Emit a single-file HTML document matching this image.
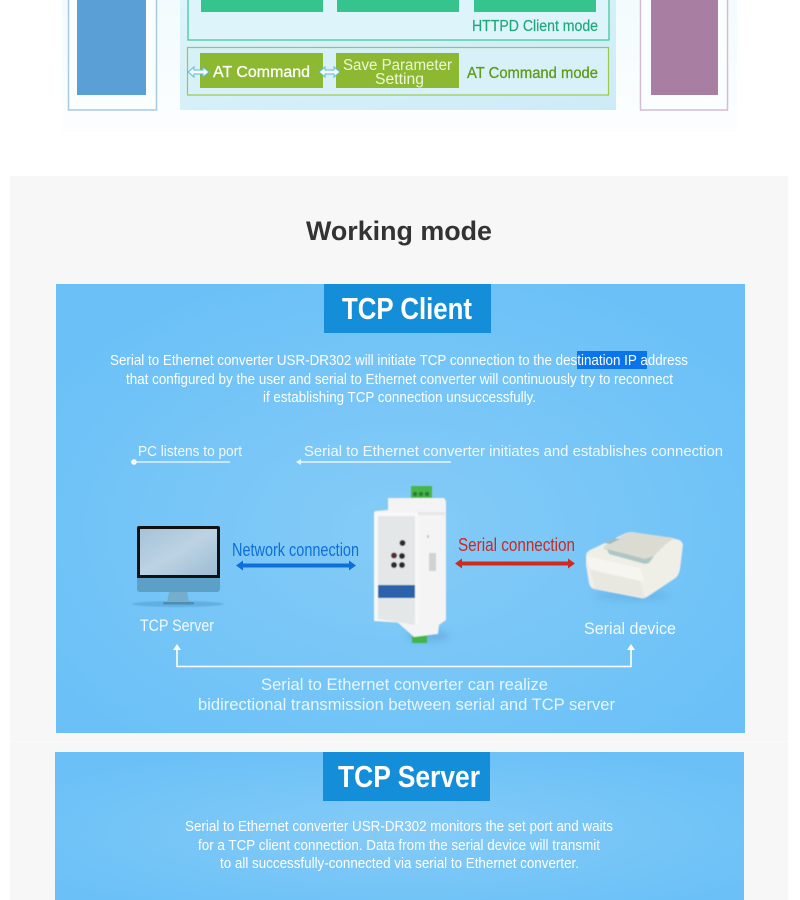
<!DOCTYPE html>
<html><head><meta charset="utf-8"><style>
html,body{margin:0;padding:0;background:#fff}
svg{display:block}
text{font-family:"Liberation Sans",sans-serif}
</style></head><body>
<svg width="800" height="900" viewBox="0 0 800 900" xmlns="http://www.w3.org/2000/svg">
<defs>
<radialGradient id="bg" cx="50%" cy="55%" r="60%"><stop offset="0" stop-color="#85cbf7"/><stop offset="1" stop-color="#6bc1f7"/></radialGradient>
<linearGradient id="center" x1="0" y1="0" x2="1" y2="1"><stop offset="0" stop-color="#dcf4fb"/><stop offset="1" stop-color="#cdebf7"/></linearGradient>
<linearGradient id="screen" x1="0" y1="0" x2="1" y2="1"><stop offset="0" stop-color="#a5c3d9"/><stop offset=".5" stop-color="#bcd3e3"/><stop offset="1" stop-color="#9dbbd4"/></linearGradient>
<linearGradient id="fade" x1="0" y1="0" x2="0" y2="1"><stop offset="0" stop-color="#f2fbfd"/><stop offset="1" stop-color="#fcfefe"/></linearGradient>
<filter id="soft" x="-10%" y="-10%" width="120%" height="120%"><feGaussianBlur stdDeviation=".5"/></filter>
<filter id="shadow" x="-30%" y="-100%" width="160%" height="300%"><feGaussianBlur stdDeviation="4"/></filter>
</defs>

<rect width="800" height="900" fill="#fff"/>
<!-- top diagram -->
<rect x="62" y="0" width="675" height="132" fill="url(#fade)"/>
<rect x="68.500" y="-5" width="88" height="115" fill="#fbfefe" stroke="#a9c9e0" stroke-width="1.500"/>
<rect x="77" y="0" width="69" height="95" fill="#5a9fd5"/>
<rect x="640.500" y="-5" width="87" height="115" fill="#fbfefe" stroke="#d3bdd0" stroke-width="1.500"/>
<rect x="651" y="0" width="67" height="95" fill="#a97ea3"/>
<rect x="180" y="0" width="436" height="110" fill="url(#center)"/>
<rect x="188" y="-5" width="421" height="45" fill="#dcf4fa" stroke="#3ac690" stroke-width="1.200"/>
<rect x="201" y="0" width="122" height="12" fill="#36c48e"/>
<rect x="337" y="0" width="122" height="12" fill="#36c48e"/>
<rect x="474" y="0" width="122" height="12" fill="#36c48e"/>
<text x="472" y="31" font-size="16" fill="#1fa87a" stroke="#1fa87a" stroke-width=".2" textLength="126" lengthAdjust="spacingAndGlyphs">HTTPD Client mode</text>
<rect x="187.500" y="47.500" width="421" height="47.500" fill="#d8f1f8" stroke="#9bc84b" stroke-width="1.200"/>
<rect x="200" y="53" width="123" height="35" fill="#8cb931"/>
<rect x="336" y="53" width="123" height="35" fill="#8cb931"/>
<text x="213" y="77" font-size="16" fill="#fff" stroke="#fff" stroke-width=".3" textLength="97" lengthAdjust="spacingAndGlyphs">AT Command</text>
<text x="343" y="70" font-size="15.500" fill="#eef7d8" textLength="109" lengthAdjust="spacingAndGlyphs">Save Parameter</text>
<text x="375" y="84" font-size="15.500" fill="#eef7d8" textLength="49" lengthAdjust="spacingAndGlyphs">Setting</text>
<text x="467" y="78" font-size="16" fill="#5f9a17" stroke="#5f9a17" stroke-width=".3" textLength="131" lengthAdjust="spacingAndGlyphs">AT Command mode</text>
<g fill="#f5fcfd" stroke="#5cbcd6" stroke-width="1">
<path d="M188 72 l6 -5 v3 h9 v-3 l6 5 l-6 5 v-3 h-9 v3z"/>
<path d="M319 72 l6 -5 v3 h9 v-3 l6 5 l-6 5 v-3 h-9 v3z"/>
</g>

<!-- gray section -->
<rect x="10" y="176" width="778" height="724" fill="#f7f7f7"/>
<text x="399" y="240" text-anchor="middle" font-size="27" font-weight="bold" fill="#333" textLength="186" lengthAdjust="spacingAndGlyphs">Working mode</text>

<!-- TCP Client panel -->
<rect x="56" y="284" width="689" height="449" fill="url(#bg)"/>
<rect x="324" y="284" width="167" height="49" fill="#148ed9"/>
<text x="342" y="319" font-size="31" font-weight="bold" fill="#fff" textLength="130" lengthAdjust="spacingAndGlyphs">TCP Client</text>
<rect x="577" y="351" width="70" height="18" fill="#0a74ea"/>
<g font-size="15" fill="#fff">
<text x="110" y="365" textLength="578" lengthAdjust="spacingAndGlyphs">Serial to Ethernet converter USR-DR302 will initiate TCP connection to the destination IP address</text>
<text x="126" y="384" textLength="547" lengthAdjust="spacingAndGlyphs">that configured by the user and serial to Ethernet converter will continuously try to reconnect</text>
<text x="263" y="402" textLength="273" lengthAdjust="spacingAndGlyphs">if establishing TCP connection unsuccessfully.</text>
</g>
<g font-size="15" fill="#f1f9ff">
<text x="138" y="456" textLength="104" lengthAdjust="spacingAndGlyphs">PC listens to port</text>
<text x="304" y="456" textLength="419" lengthAdjust="spacingAndGlyphs">Serial to Ethernet converter initiates and establishes connection</text>
</g>
<circle cx="134" cy="462" r="2.800" fill="#fff"/>
<rect x="134" y="461.300" width="96" height="1.400" fill="#e6f5ff"/>
<path d="M296 462 l5 -3 v2.300 h150 v1.400 h-150 v2.300z" fill="#e6f5ff"/>

<!-- monitor -->
<ellipse cx="178" cy="604" rx="46" ry="3" fill="#4f9ad0" opacity=".5" filter="url(#soft)"/>
<rect x="137" y="526" width="83" height="54" rx="2" fill="#111"/>
<rect x="140" y="529" width="77" height="46" fill="url(#screen)"/>
<path d="M137 578 h83 v11 a3 3 0 0 1 -3 3 h-77 a3 3 0 0 1 -3 -3z" fill="#5c9fc7"/>
<path d="M169 592 h18 l2 10 h-22z" fill="#75aecd"/>
<rect x="163" y="602" width="31" height="2.500" rx="1" fill="#4f8db2"/>
<text x="140" y="631" font-size="16.500" fill="#f4faff" textLength="74" lengthAdjust="spacingAndGlyphs">TCP Server</text>

<!-- network -->
<text x="232" y="556" font-size="18" fill="#0f6fd8" textLength="127" lengthAdjust="spacingAndGlyphs">Network connection</text>
<path d="M236 565.500 l7 -5 v3 h106 v-3 l7 5 l-7 5 v-3 h-106 v3z" fill="#0f6fd8"/>

<!-- device -->
<ellipse cx="428" cy="636" rx="22" ry="5" fill="#4f93c8" opacity=".45" filter="url(#shadow)"/>
<g filter="url(#soft)">
<rect x="411" y="486" width="21" height="13" fill="#47b64a"/>
<g fill="#2d7b35"><circle cx="415" cy="494" r="2.200"/><circle cx="421" cy="494" r="2.200"/><circle cx="427" cy="494" r="2.200"/></g>
<rect x="412" y="634" width="15" height="9" fill="#3fb648"/>
<path d="M388 498 h56 l2 3 v119 l-7 5 l-1 9 l-24 3 l-17 -15 l-22 -4 v-107 l13 -1z" fill="#f3f4f3"/>
<path d="M374 512 h45 v112 l-45 -3z" fill="#f7f8f7"/>
<path d="M378 516 h37 v109 l-37 -6z" fill="#e4e7e7"/>
<path d="M418 512 h27 v3 h-27z" fill="#e6e8e7"/>
<rect x="427" y="535" width="2" height="3" fill="#c5c8c8"/>
<rect x="429" y="553" width="7" height="18" fill="#cfd3d3"/>
<g fill="#2b2b2b"><circle cx="402.500" cy="543" r="3"/><circle cx="402" cy="556" r="3"/><circle cx="402" cy="565" r="3"/><circle cx="394" cy="565" r="3"/></g>
<circle cx="394" cy="555.500" r="3" fill="#5a2a33"/>
<rect x="378" y="585" width="37" height="13" fill="#2b62ac"/>
</g>

<!-- serial -->
<text x="458" y="551" font-size="18" fill="#c82a25" textLength="117" lengthAdjust="spacingAndGlyphs">Serial connection</text>
<path d="M455 563.500 l7 -5 v3 h106 v-3 l7 5 l-7 5 v-3 h-106 v3z" fill="#d02a1c"/>

<!-- printer -->
<ellipse cx="632" cy="596" rx="38" ry="4" fill="#4f93c8" opacity=".35" filter="url(#shadow)"/>
<g filter="url(#soft)">
<path d="M586 556 q0 -4 4 -6 l36 -17 q3 -1 6 -1 l44 7 q6 1 7 6 l-3 24 q-1 7 -6 10 l-27 18 q-3 2 -7 1 l-46 -9 q-4 -1 -5 -6 l-3 -18 z" fill="#efeee7"/>
<path d="M604 546 l23 -13 q3 -1 5 -1 l42 6 l-8 6 l-18 18 l-44 -13z" fill="#dcdbd1"/>
<path d="M607 549 l38 10 l9 -3 l-5 7 l-4 1 l-36 -10z" fill="#adc7c6"/>
<path d="M604 543 l10 -5 l6 1 l-10 5z" fill="#9dbbc4"/>
<path d="M590 570 l50 11 l5 16 l-2 1 l-48 -9 q-2 -10 -5 -19z" fill="#e9e8e0"/>
<path d="M586 556 l54 12 q3 8 5 15 l-4 -2 l-51 -12z" fill="#f6f5ef"/>
</g>
<text x="584" y="634" font-size="16.500" fill="#f4faff" textLength="92" lengthAdjust="spacingAndGlyphs">Serial device</text>

<!-- bottom connector -->
<path d="M177 648 v18.500 h454 v-18.500" fill="none" stroke="#fff" stroke-width="1.600"/>
<path d="M173 650 l4 -6 l4 6z M627 650 l4 -6 l4 6z" fill="#fff"/>
<g font-size="16.500" fill="#e9f6ff">
<text x="261" y="690" textLength="287" lengthAdjust="spacingAndGlyphs">Serial to Ethernet converter can realize</text>
<text x="198" y="710" textLength="417" lengthAdjust="spacingAndGlyphs">bidirectional transmission between serial and TCP server</text>
</g>

<!-- TCP Server panel -->
<rect x="10" y="741" width="778" height="1" fill="#fbfbfb"/>
<rect x="55" y="752" width="689" height="148" fill="url(#bg)"/>
<rect x="323" y="752" width="167" height="49" fill="#148ed9"/>
<text x="338" y="787" font-size="31" font-weight="bold" fill="#fff" textLength="142" lengthAdjust="spacingAndGlyphs">TCP Server</text>
<g font-size="15" fill="#fff">
<text x="185" y="831" textLength="428" lengthAdjust="spacingAndGlyphs">Serial to Ethernet converter USR-DR302 monitors the set port and waits</text>
<text x="198" y="850" textLength="402" lengthAdjust="spacingAndGlyphs">for a TCP client connection. Data from the serial device will transmit</text>
<text x="220" y="868" textLength="359" lengthAdjust="spacingAndGlyphs">to all successfully-connected via serial to Ethernet converter.</text>
</g>
</svg>
</body></html>
